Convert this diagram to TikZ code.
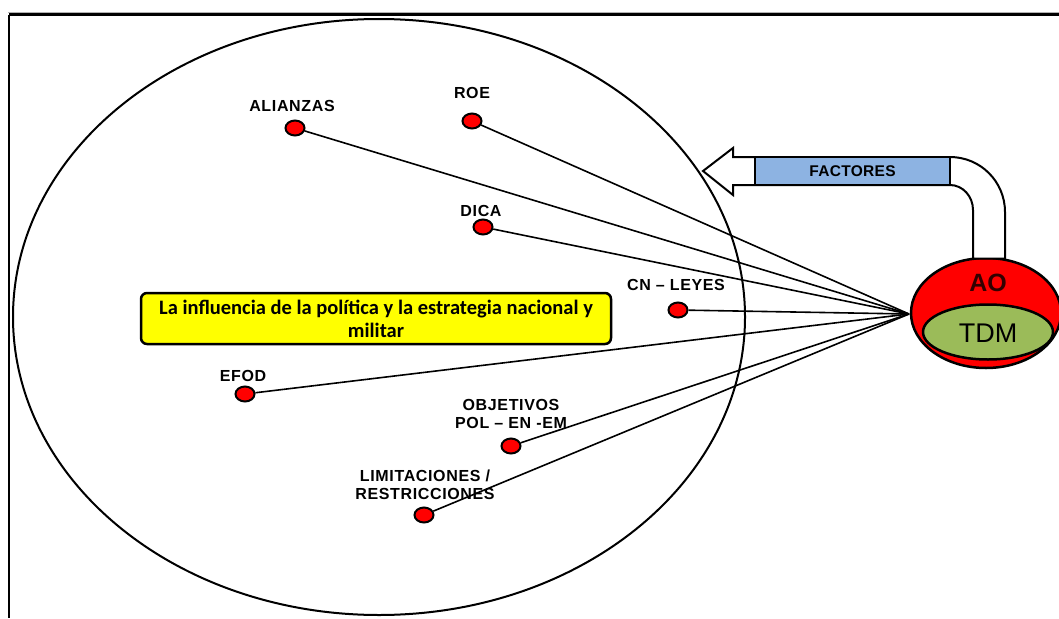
\documentclass[tikz,border=0pt]{standalone}
\usetikzlibrary{shapes.geometric}
\usepackage{fontspec}
\setmainfont{Liberation Sans}
\newfontfamily\calib{Carlito}
\newfontfamily\lblfont[LetterSpace=4]{Liberation Sans}
\newfontfamily\facfont[LetterSpace=2]{Liberation Sans}
\definecolor{aored}{HTML}{FF0000}
\definecolor{tdmgreen}{HTML}{9BBB59}
\definecolor{facblue}{HTML}{8DB3E2}
\definecolor{boxyellow}{HTML}{FFFF00}
\begin{document}
\begin{tikzpicture}[x=1pt,y=-1pt,
  dot/.style={ellipse,draw=black,line width=2pt,fill=aored,minimum width=19pt,minimum height=15pt,inner sep=0pt},
  lbl/.style={font=\lblfont\fontsize{16}{18}\selectfont\bfseries,align=center,inner sep=0pt},
  link/.style={line width=1.6pt,draw=black}]
\useasboundingbox (0,0) rectangle (1059,618);
\fill[white] (0,0) rectangle (1059,618);
% frame
\draw[gray!60,line width=1pt] (8,12.5) -- (1059,12.5);
\draw[line width=3pt] (9,15) -- (1059,15);
\draw[line width=2.5pt] (9,15) -- (9,618);
% big ellipse
\draw[line width=2pt] (379,317) ellipse[x radius=366,y radius=298];
% convergence point
\coordinate (c) at (909,314);
% dots
\node[dot] (ali) at (295,128) {};
\node[dot] (roe) at (472,121) {};
\node[dot] (dica) at (483,227) {};
\node[dot] (cn) at (678,310) {};
\node[dot] (efod) at (245,394) {};
\node[dot] (obj) at (511,446) {};
\node[dot] (lim) at (424,515) {};
% links
\foreach \n in {ali,roe,dica,cn,efod,obj,lim}
  \draw[link] (\n) -- (c);
% labels
\node[lbl] (tali) at (292,106) {ALIANZAS};
\node[lbl] (troe) at (472,93) {ROE};
\node[lbl] (tdica) at (481,211) {DICA};
\node[lbl] (tcn) at (676,285) {CN – LEYES};
\node[lbl] (tefod) at (243,376) {EFOD};
\node[lbl] (tobj) at (511,414) {OBJETIVOS\\POL – EN -EM};
\node[lbl] (tlim) at (425,485) {LIMITACIONES /\\RESTRICCIONES};
% yellow box
\node[draw=black,line width=2.5pt,fill=boxyellow,rounded corners=6pt,minimum width=470pt,minimum height=51pt,inner sep=0pt,align=center,font=\calib\fontsize{20.5}{23}\selectfont\bfseries] (ybox) at (376,318.5) {La influencia de la política y la estrategia nacional y\\militar};
% AO / TDM
\node[ellipse,draw=black,line width=2.5pt,fill=aored,minimum width=150pt,minimum height=110pt,inner sep=0pt] (ao) at (986,313) {};
\node[font=\fontsize{25}{25}\selectfont\bfseries,text=black!80!red] (aot) at (988,283) {AO};
\node[ellipse,draw=black,line width=2.5pt,fill=tdmgreen,minimum width=130pt,minimum height=55pt,inner sep=0pt] (tdm) at (988,332) {};
\node[font=\fontsize{27}{27}\selectfont,text=black] (tdmt) at (988,333) {TDM};
% pipe arrow
\draw[line width=2pt,fill=white,line join=miter]
  (703,171) -- (733,148) -- (733,157) -- (950,157)
  .. controls (980.4,157) and (1005,181.6) .. (1005,212)
  -- (1005,258.5) -- (973,258.5) -- (973,210)
  .. controls (973,196.3) and (962.7,185) .. (950,185)
  -- (733,185) -- (733,195) -- cycle;
\node[draw=black,line width=2pt,fill=facblue,minimum width=195pt,minimum height=28pt,inner sep=0pt,font=\facfont\fontsize{15.5}{15.5}\selectfont\bfseries] (fac) at (852.5,171) {FACTORES};
\end{tikzpicture}
\end{document}
